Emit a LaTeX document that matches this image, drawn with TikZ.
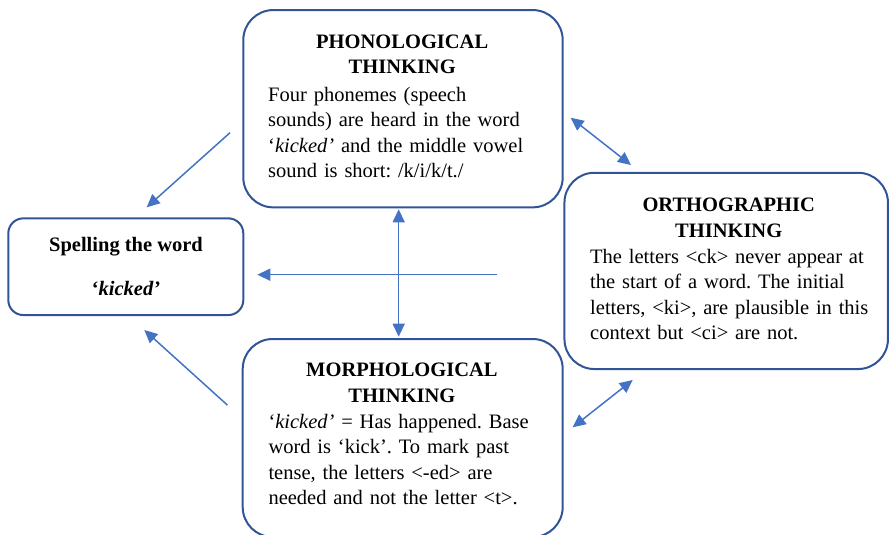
\documentclass[tikz,border=0pt]{standalone}
\usepackage{fontspec}
\setmainfont{Liberation Serif}
\usetikzlibrary{arrows.meta}
\definecolor{boxblue}{HTML}{2F5597}
\definecolor{arrblue}{HTML}{4472C4}
\frenchspacing
\begin{document}
\begin{tikzpicture}[x=1pt,y=-1pt,
  box/.style={draw=boxblue, line width=2pt, rounded corners=30pt, inner sep=0pt},
  txt/.style={inner sep=0pt, font=\fontsize{20.5}{25.5}\selectfont, anchor=north west, align=left},
  head/.style={inner sep=0pt, font=\fontsize{20.5}{25.5}\selectfont\bfseries, anchor=north west, align=center, text width=268pt},
  tip/.tip={Triangle[length=13pt,width=12pt]},
  conn/.style={draw=arrblue, line width=1.5pt, -tip},
  biconn/.style={draw=arrblue, line width=1.5pt, tip-tip}
]
\useasboundingbox (0,0) rectangle (889,535);

% boxes
\node[box, minimum width=319.4pt, minimum height=197.3pt] (phon) at (403,108.7) {};
\node[box, rounded corners=15pt, minimum width=235pt, minimum height=96.7pt] (spell) at (125.8,266.7) {};
\node[box, minimum width=323.5pt, minimum height=196.3pt] (orth) at (726.2,270.9) {};
\node[box, minimum width=320pt, minimum height=198pt] (morph) at (402.7,438) {};

% texts
\node[head] (phonhead) at (268,30.2) {\strut PHONOLOGICAL\\THINKING};
\node[txt, text width=295pt] (phonbody) at (268,83.2) {\strut Four phonemes (speech\\sounds) are heard in the word\\‘\textit{kicked’} and the middle vowel\\sound is short: /k/i/k/t./};

\node[inner sep=0pt, anchor=base, font=\fontsize{20.5}{25.5}\selectfont\bfseries] (spell1) at (126,251) {Spelling the word};
\node[inner sep=0pt, anchor=base, font=\fontsize{20.5}{25.5}\selectfont\bfseries] (spell2) at (126,295) {‘\textit{kicked’}};

\node[head] (orthhead) at (594.5,193.9) {\strut ORTHOGRAPHIC\\THINKING};
\node[txt, text width=295pt] (orthbody) at (590,245.2) {\strut The letters <ck> never appear at\\the start of a word. The initial\\letters, <ki>, are plausible in this\\context but <ci> are not.};

\node[head] (morphhead) at (267.7,358.9) {\strut MORPHOLOGICAL\\THINKING};
\node[txt, text width=295pt] (morphbody) at (268.3,410.2) {\strut ‘\textit{kicked’} = Has happened. Base\\word is ‘kick’. To mark past\\tense, the letters <-ed> are\\needed and not the letter <t>.};

% connector end points
\coordinate (a1s) at (230,132.7);
\coordinate (a1e) at (146.7,207.3);
\coordinate (a2s) at (227.3,405);
\coordinate (a2e) at (144.3,330);
\coordinate (a3s) at (570.7,117.7);
\coordinate (a3e) at (631,165);
\coordinate (a4s) at (572.7,427.3);
\coordinate (a4e) at (632.7,380);
\coordinate (vs) at (398.7,209.3);
\coordinate (ve) at (398.7,336.7);
\coordinate (hs) at (497.3,274.7);
\coordinate (he) at (257.3,274.7);

\draw[conn] (a1s) -- (a1e);
\draw[conn] (a2s) -- (a2e);
\draw[biconn] (a3s) -- (a3e);
\draw[biconn] (a4s) -- (a4e);
\draw[biconn] (vs) -- (ve);
\draw[conn] (hs) -- (he);
\end{tikzpicture}
\end{document}
